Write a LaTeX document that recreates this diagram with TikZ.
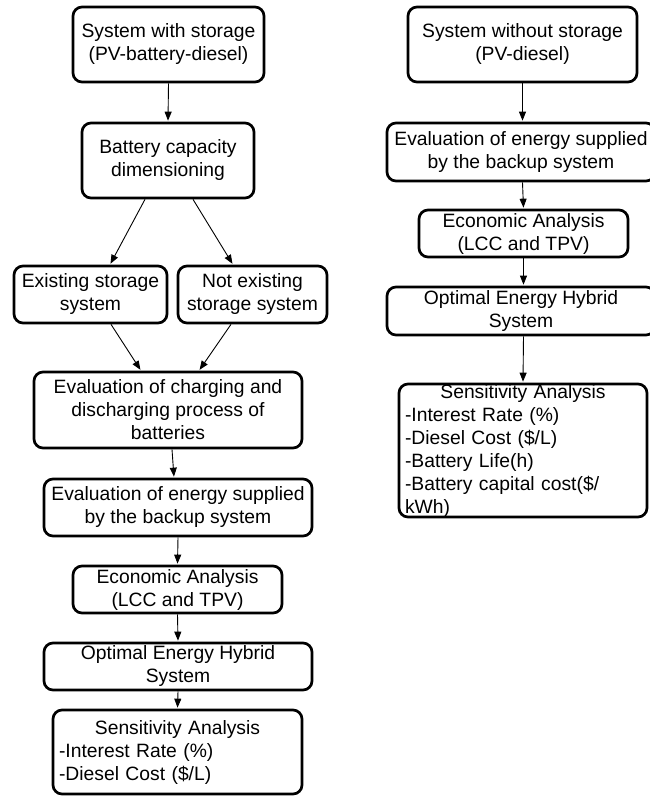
\documentclass[tikz,border=0pt]{standalone}
\usepackage{fontspec}
\setmainfont{Liberation Sans}
\usetikzlibrary{arrows.meta}
\tikzset{
  box/.style={draw, line width=2.7pt, rounded corners=9pt, align=center, inner sep=0pt,
    font=\fontsize{19.3}{23}\selectfont, text=black},
  listbox/.style={box, align=left, inner xsep=6pt},
  arr/.style={line width=0.9pt, -{Triangle[length=9pt,width=7pt]}, shorten >=1pt}
}
\begin{document}
\begin{tikzpicture}[x=1pt,y=-1pt]
\useasboundingbox (0,0) rectangle (650,796);
\clip (0,0) rectangle (650,796);
% left column
\node[box, minimum width=191pt, minimum height=75pt] (b1) at (168.5,44.5) {System with storage\\(PV-battery-diesel)};
\node[box, minimum width=172pt, minimum height=75pt] (b2) at (168,160.5) {Battery capacity\\dimensioning};
\node[box, minimum width=153pt, minimum height=57pt] (b3) at (90.5,294.5) {Existing storage\\system};
\node[box, minimum width=149pt, minimum height=57pt] (b4) at (252.5,294.5) {Not existing\\storage system};
\node[box, minimum width=268pt, minimum height=76pt] (b5) at (168,410) {Evaluation of charging and\\discharging process of\\batteries};
\node[box, minimum width=268pt, minimum height=57pt] (b6) at (178,507.5) {Evaluation of energy supplied\\by the backup system};
\node[box, minimum width=209pt, minimum height=47pt] (b7) at (177.5,589.5) {Economic Analysis\\(LCC and TPV)};
\node[box, minimum width=268pt, minimum height=47pt] (b8) at (178,666.5) {Optimal Energy Hybrid\\System};
\node[listbox, text width=237pt, minimum height=84pt] (b9) at (177.5,752) {\noindent\makebox[\hsize]{Sensitivity Analysis}\\-Interest Rate (\%)\\-Diesel Cost (\$/L)};
% right column
\node[box, minimum width=229pt, minimum height=75pt] (r1) at (522.5,44.5) {System without storage\\(PV-diesel)};
\node[box, minimum width=268pt, minimum height=58pt] (r2) at (521,152) {Evaluation of energy supplied\\by the backup system};
\node[box, minimum width=209pt, minimum height=47pt] (r3) at (523.5,233.5) {Economic Analysis\\(LCC and TPV)};
\node[box, minimum width=268pt, minimum height=48pt] (r4) at (521,311) {Optimal Energy Hybrid\\System};
\node[listbox, text width=236pt, minimum height=133pt] (r5) at (523,450.5) {\noindent\makebox[\hsize]{Sensitivity Analysis}\\-Interest Rate (\%)\\-Diesel Cost (\$/L)\\-Battery Life(h)\\-Battery capital cost(\$/\\kWh)};
% connectors left
\draw[arr] (b1.south) -- (b2.north);
\draw[arr] ([xshift=-23pt]b2.south) -- ([xshift=19.5pt]b3.north);
\draw[arr] ([xshift=25pt]b2.south) -- ([xshift=-19.5pt]b4.north);
\draw[arr] ([xshift=20.5pt]b3.south) -- ([xshift=-27pt]b5.north);
\draw[arr] ([xshift=-21.5pt]b4.south) -- ([xshift=31pt]b5.north);
\draw[arr] ([xshift=4pt]b5.south) -- ([xshift=-4pt]b6.north);
\draw[arr] (b6.south) -- (b7.north);
\draw[arr] (b7.south) -- (b8.north);
\draw[arr] (b8.south) -- (b9.north);
% connectors right
\draw[arr] (r1.south) -- (r1.south |- r2.north);
\draw[arr] (r1.south |- r2.south) -- (r3.north);
\draw[arr] (r3.south) -- (r3.south |- r4.north);
\draw[arr] (r3.south |- r4.south) -- (r5.north);
\end{tikzpicture}
\end{document}
